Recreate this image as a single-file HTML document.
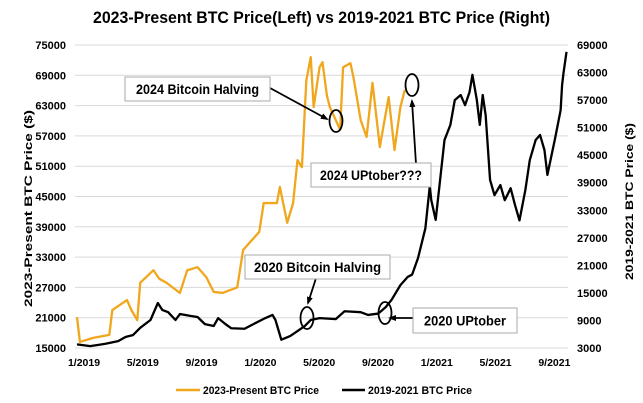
<!DOCTYPE html>
<html><head><meta charset="utf-8"><style>
body{margin:0;background:#fff;}
svg{display:block;font-family:"Liberation Sans",Arial,sans-serif;}
</style></head><body>
<svg id="chart" width="643" height="403" viewBox="0 0 643 403" xmlns="http://www.w3.org/2000/svg">
<rect width="643" height="403" fill="#fff"/>
<text x="93" y="23" textLength="457" lengthAdjust="spacingAndGlyphs" font-size="16.5" font-weight="bold">2023-Present BTC Price(Left) vs 2019-2021 BTC Price (Right)</text>
<g id="grid"></g><g id="axes"></g><g id="series"></g>
<g id="annot"></g>
<text transform="translate(32,307) rotate(-90)" textLength="197" lengthAdjust="spacingAndGlyphs" font-size="11" font-weight="bold">2023-Present BTC Price ($)</text>
<text transform="translate(633,280) rotate(-90)" textLength="157" lengthAdjust="spacingAndGlyphs" font-size="11" font-weight="bold">2019-2021 BTC Price ($)</text>
<g>
<line x1="176" y1="390" x2="200" y2="390" stroke="#f0a71d" stroke-width="2.5"/>
<text x="203" y="394" font-size="11" font-weight="bold" textLength="116" lengthAdjust="spacingAndGlyphs">2023-Present BTC Price</text>
<line x1="342" y1="390" x2="365" y2="390" stroke="#000" stroke-width="2.5"/>
<text x="368" y="394" font-size="11" font-weight="bold" textLength="104" lengthAdjust="spacingAndGlyphs">2019-2021 BTC Price</text>
</g>
</svg>
<script>
const leftTicks=[15000,21000,27000,33000,39000,45000,51000,57000,63000,69000,75000];
const rightTicks=[3000,9000,15000,21000,27000,33000,39000,45000,51000,57000,63000,69000];
const xTickLabels=["1/2019","5/2019","9/2019","1/2020","5/2020","9/2020","1/2021","5/2021","9/2021"];
const xTickMonths=[0,4,8,12,16,20,24,28,32];
const blackMonths=[0,0.9,1.9,2.8,3.3,3.8,4.3,5.0,5.5,5.8,6.2,6.7,7.0,7.7,8.2,8.7,9.3,9.6,10.1,10.5,11.4,12.0,12.8,13.3,13.5,13.9,14.5,15.0,15.5,15.9,16.5,17.6,18.2,19.3,19.8,20.5,21.0,21.4,22.0,22.5,22.8,23.2,23.7,24.0,24.1,24.4,24.7,25.0,25.4,25.7,26.1,26.4,26.7,26.9,27.2,27.4,27.6,27.8,28.1,28.4,28.8,29.1,29.5,29.8,30.1,30.5,30.8,31.2,31.5,31.8,32.0,32.5,32.9,33.0,33.1,33.3];
const blackValues=[3800,3400,3900,4500,5400,5800,7400,9100,12800,11300,10800,9100,10400,10000,9750,8200,7800,9500,8200,7300,7200,8200,9500,10200,9100,4800,5600,6700,7800,9100,9500,9300,11000,10800,10200,10500,11900,13500,16700,18500,19000,22600,29100,38300,35200,30900,39600,48300,51600,57000,58100,55900,58700,62500,57000,51600,58100,53700,39600,36300,38500,35200,37800,34100,30800,37400,43900,48300,49400,46100,40700,48300,54800,60300,63000,67500];
const orangeMonths=[0,0.2,1.1,2.2,2.4,3.4,3.7,4.1,4.3,5.2,5.6,6.1,7.0,7.5,8.2,8.8,9.3,9.9,10.9,11.3,12.4,12.7,13.6,13.8,14.3,14.7,15.0,15.3,15.6,15.9,16.1,16.5,16.7,17.0,17.2,17.7,17.9,18.1,18.6,18.8,19.3,19.7,20.1,20.6,21.2,21.6,22.0,22.3];
const orangeValues=[21100,16200,17000,17600,22500,24500,22500,20500,27900,30400,28700,27900,25900,30400,31000,29000,26100,25900,27000,34400,38000,43700,43700,46900,39800,43700,52200,50800,68000,72600,62700,70600,71600,65000,62700,59500,58200,70600,71400,68700,60100,56800,67500,54800,64700,54200,62700,66100];
const NS="http://www.w3.org/2000/svg";
const X0=77,XM=14.7,YT=45,YB=348;
function xs(m){return X0+m*XM;}
function yl(v){return YB-(v-15000)/60000*(YB-YT);}
function yr(v){return YB-(v-3000)/66000*(YB-YT);}
function mk(tag,attrs,parent){const e=document.createElementNS(NS,tag);for(const k in attrs)e.setAttribute(k,attrs[k]);parent.appendChild(e);return e;}
const grid=document.getElementById('grid'),axes=document.getElementById('axes'),ser=document.getElementById('series');
leftTicks.forEach(v=>{
 const g=mk('line',{x1:75,x2:568,y1:yl(v),y2:yl(v),stroke:'#d9d9d9','stroke-width':1},grid);
 
 
 const t=mk('text',{x:66,y:yl(v)+4,'text-anchor':'end','font-size':11,'font-weight':'bold'},axes);
 t.textContent=v;
 
 
});
rightTicks.forEach(v=>{
 const t=mk('text',{x:577,y:yr(v)+4,'font-size':11,'font-weight':'bold'},axes);
 t.textContent=v;
 
 
});
xTickLabels.forEach((l,i)=>{
 const t=mk('text',{x:xs(xTickMonths[i])+7,y:366,'text-anchor':'middle','font-size':10.5,'font-weight':'bold'},axes);
 t.textContent=l;
 
 
});
const po=mk('polyline',{points:orangeMonths.map((m,i)=>xs(m)+','+yl(orangeValues[i])).join(' '),fill:'none',stroke:'#f0a71d','stroke-width':2.3,'stroke-linejoin':'round'},ser);


const pb=mk('polyline',{points:blackMonths.map((m,i)=>xs(m)+','+yr(blackValues[i])).join(' '),fill:'none',stroke:'#000','stroke-width':2.3,'stroke-linejoin':'round'},ser);



const an=document.getElementById('annot');
const defs=mk('defs',{},an);
const mkr=mk('marker',{id:'arr',markerWidth:8,markerHeight:8,refX:6,refY:3,orient:'auto',markerUnits:'userSpaceOnUse'},defs);
mk('path',{d:'M0,0 L8,3 L0,6 Z',fill:'#000'},mkr);
function box(name,x,y,w,h,text,tl){
 const g=mk('g',{},an);
 
 
 mk('rect',{x:x,y:y,width:w,height:h,fill:'#fff',stroke:'#aaa','stroke-width':1},g);
 const t=mk('text',{x:x+(w-tl)/2,y:y+h/2+5,'font-size':13.5,'font-weight':'bold',textLength:tl,lengthAdjust:'spacingAndGlyphs'},g);
 t.textContent=text;
}
function arrow(x1,y1,x2,y2){mk('line',{x1:x1,y1:y1,x2:x2,y2:y2,stroke:'#000','stroke-width':1.8,'marker-end':'url(#arr)'},an);}
function ell(cx,cy){mk('ellipse',{cx:cx,cy:cy,rx:6.5,ry:11,fill:'none',stroke:'#000','stroke-width':1.8},an);}
arrow(270,88,327,119);ell(336,121);
box('annotation-2024-halving',125,77,145,24,'2024 Bitcoin Halving',123);
arrow(416,164,412,101);ell(412,85);
box('annotation-2024-uptober',311,163,120,24,'2024 UPtober???',102);
arrow(318,272,308,303);ell(307,318);
box('annotation-2020-halving',245,255,145,24,'2020 Bitcoin Halving',127);
arrow(413,318,390,318);ell(385,313);
box('annotation-2020-uptober',413,308,104,25,'2020 UPtober',82);
</script>
</body></html>
